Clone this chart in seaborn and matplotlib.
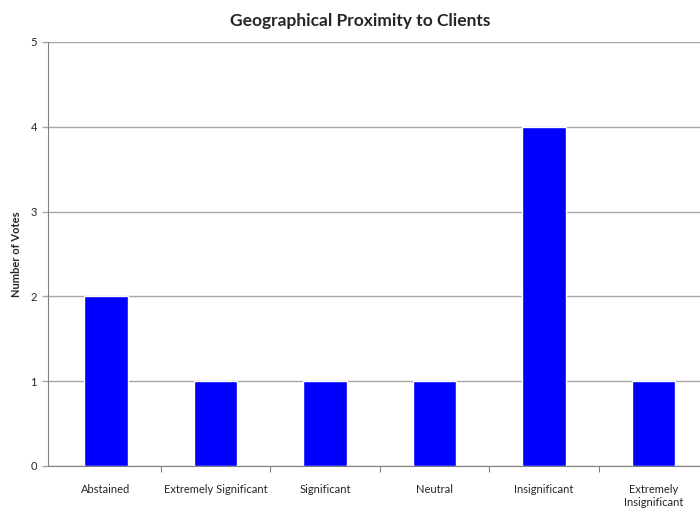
import matplotlib
matplotlib.use("Agg")
import matplotlib.pyplot as plt
import seaborn as sns
import pandas as pd
import numpy as np

categories = ["Abstained", "Extremely Significant", "Significant", "Neutral",
              "Insignificant", "Extremely\nInsignificant"]
votes = [2, 1, 1, 1, 4, 1]
yticks = [0, 1, 2, 3, 4, 5]

sns.set_theme(style="white")
plt.rcParams['font.family'] = ['Lato', 'DejaVu Sans']

df = pd.DataFrame({"Response": categories, "Votes": votes})

fig = plt.figure(figsize=(7.0, 5.08), dpi=100)
ax = fig.add_axes([48 / 700, 42 / 508, 652 / 700, 424 / 508])

sns.barplot(data=df, x="Response", y="Votes", color="#0000FF", width=0.4,
            saturation=1, ax=ax, zorder=3)

ax.set_ylim(0, 5)
ax.set_xlim(-0.53, 5.425)
ax.set_yticks(yticks)
ax.set_yticklabels([str(t) for t in yticks], fontsize=8)
ax.yaxis.grid(True, color="#a6a6a6", linewidth=1, zorder=0)
ax.xaxis.grid(False)

ax.tick_params(axis="x", which="major", length=0, labelsize=8, pad=13)
ax.set_xticks(np.arange(0.5, len(categories) - 0.5, 1.0), minor=True)
ax.tick_params(axis="x", which="minor", length=4, color="#808080", width=0.8,
               direction="out", bottom=True)
ax.tick_params(axis="y", length=4, color="#a6a6a6", width=1, left=True,
               direction="out", pad=4)

for s in ["top", "right"]:
    ax.spines[s].set_visible(False)
for s in ["left", "bottom"]:
    ax.spines[s].set_color("#808080")
    ax.spines[s].set_linewidth(0.8)

ax.set_xlabel("")
ax.set_ylabel("Number of Votes", fontsize=8, fontweight="bold", labelpad=6)
fig.suptitle("Geographical Proximity to Clients", fontsize=12.5, fontweight="bold",
             x=0.515, y=0.975)

fig.savefig("out.png", dpi=100)
